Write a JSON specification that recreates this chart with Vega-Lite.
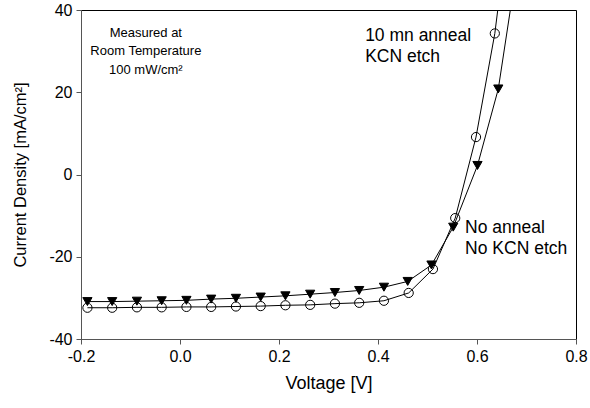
{
  "$schema": "https://vega.github.io/schema/vega-lite/v6.json",
  "autosize": {"type": "none"},
  "padding": {"left": 81, "top": 10, "right": 14, "bottom": 69},
  "width": 495,
  "height": 329,
  "background": "white",
  "config": {
    "font": "Liberation Sans",
    "view": {"stroke": "#000", "strokeWidth": 1},
    "axis": {
      "grid": false,
      "domainColor": "#555",
      "tickColor": "#555",
      "tickSize": 5,
      "labelFlush": false,
      "labelOverlap": false,
      "labelFont": "Liberation Sans",
      "labelFontSize": 16,
      "labelColor": "#000",
      "titleFont": "Liberation Sans",
      "titleFontSize": 18,
      "titleFontWeight": "normal",
      "titleColor": "#000"
    }
  },
  "datasets": {
    "jv": [
      {"V": -0.187, "J": -32.4, "series": "10 mn anneal KCN etch"},
      {"V": -0.137, "J": -32.4, "series": "10 mn anneal KCN etch"},
      {"V": -0.087, "J": -32.3, "series": "10 mn anneal KCN etch"},
      {"V": -0.037, "J": -32.3, "series": "10 mn anneal KCN etch"},
      {"V": 0.013, "J": -32.2, "series": "10 mn anneal KCN etch"},
      {"V": 0.063, "J": -32.2, "series": "10 mn anneal KCN etch"},
      {"V": 0.113, "J": -32.1, "series": "10 mn anneal KCN etch"},
      {"V": 0.163, "J": -32.0, "series": "10 mn anneal KCN etch"},
      {"V": 0.213, "J": -31.8, "series": "10 mn anneal KCN etch"},
      {"V": 0.263, "J": -31.7, "series": "10 mn anneal KCN etch"},
      {"V": 0.313, "J": -31.4, "series": "10 mn anneal KCN etch"},
      {"V": 0.362, "J": -31.2, "series": "10 mn anneal KCN etch"},
      {"V": 0.412, "J": -30.7, "series": "10 mn anneal KCN etch"},
      {"V": 0.462, "J": -28.8, "series": "10 mn anneal KCN etch"},
      {"V": 0.511, "J": -23.0, "series": "10 mn anneal KCN etch"},
      {"V": 0.556, "J": -10.6, "series": "10 mn anneal KCN etch"},
      {"V": 0.598, "J": 9.1, "series": "10 mn anneal KCN etch"},
      {"V": 0.636, "J": 34.3, "series": "10 mn anneal KCN etch"},
      {"V": 0.668, "J": 65.0, "series": "10 mn anneal KCN etch"},
      {"V": -0.187, "J": -30.9, "series": "No anneal No KCN etch"},
      {"V": -0.137, "J": -30.9, "series": "No anneal No KCN etch"},
      {"V": -0.087, "J": -30.8, "series": "No anneal No KCN etch"},
      {"V": -0.037, "J": -30.7, "series": "No anneal No KCN etch"},
      {"V": 0.013, "J": -30.6, "series": "No anneal No KCN etch"},
      {"V": 0.063, "J": -30.3, "series": "No anneal No KCN etch"},
      {"V": 0.113, "J": -30.1, "series": "No anneal No KCN etch"},
      {"V": 0.163, "J": -29.8, "series": "No anneal No KCN etch"},
      {"V": 0.213, "J": -29.5, "series": "No anneal No KCN etch"},
      {"V": 0.263, "J": -29.1, "series": "No anneal No KCN etch"},
      {"V": 0.313, "J": -28.7, "series": "No anneal No KCN etch"},
      {"V": 0.362, "J": -28.2, "series": "No anneal No KCN etch"},
      {"V": 0.412, "J": -27.4, "series": "No anneal No KCN etch"},
      {"V": 0.460, "J": -26.0, "series": "No anneal No KCN etch"},
      {"V": 0.508, "J": -22.0, "series": "No anneal No KCN etch"},
      {"V": 0.552, "J": -12.8, "series": "No anneal No KCN etch"},
      {"V": 0.601, "J": 2.2, "series": "No anneal No KCN etch"},
      {"V": 0.643, "J": 20.8, "series": "No anneal No KCN etch"},
      {"V": 0.680, "J": 50.0, "series": "No anneal No KCN etch"}
    ],
    "notes": [
      {"V": -0.069, "J": 34.5, "label": "Measured at", "group": "small"},
      {"V": -0.069, "J": 30.0, "label": "Room Temperature", "group": "small"},
      {"V": -0.069, "J": 25.5, "label": "100 mW/cm²", "group": "small"},
      {"V": 0.374, "J": 33.6, "label": "10 mn anneal", "group": "big"},
      {"V": 0.374, "J": 28.5, "label": "KCN etch", "group": "big"},
      {"V": 0.576, "J": -13.1, "label": "No anneal", "group": "big"},
      {"V": 0.576, "J": -18.1, "label": "No KCN etch", "group": "big"}
    ]
  },
  "layer": [
    {
      "data": {"name": "jv"},
      "mark": {"type": "line", "color": "#000", "strokeWidth": 1, "clip": true},
      "encoding": {
        "x": {"field": "V", "type": "quantitative",
          "scale": {"domain": [-0.2, 0.8], "nice": false, "zero": false},
          "axis": {"title": "Voltage [V]", "values": [-0.2, 0, 0.2, 0.4, 0.6, 0.8], "format": ".1f",
            "labelExpr": "replace(datum.label, '\u2212', '-')", "labelPadding": 4, "titlePadding": 10}},
        "y": {"field": "J", "type": "quantitative",
          "scale": {"domain": [-40, 40], "nice": false, "zero": false},
          "axis": {"title": "Current Density [mA/cm²]", "values": [-40, -20, 0, 20, 40],
            "labelExpr": "replace(datum.label, '\u2212', '-')", "labelPadding": 4, "titlePadding": 20, "titleFontSize": 16.5}},
        "detail": {"field": "series"}
      }
    },
    {
      "data": {"name": "jv"},
      "mark": {"type": "point", "stroke": "#000", "strokeWidth": 1, "opacity": 1, "clip": true, "size": 85},
      "encoding": {
        "x": {"field": "V", "type": "quantitative"},
        "y": {"field": "J", "type": "quantitative"},
        "shape": {"field": "series", "scale": {"range": ["circle", "triangle-down"]}, "legend": null},
        "fill": {"field": "series", "scale": {"range": ["transparent", "#000"]}, "legend": null}
      }
    },
    {
      "data": {"name": "notes"},
      "transform": [{"filter": "datum.group === 'small'"}],
      "mark": {"type": "text", "fontSize": 13, "align": "center", "baseline": "middle", "color": "#000"},
      "encoding": {
        "x": {"field": "V", "type": "quantitative"},
        "y": {"field": "J", "type": "quantitative"},
        "text": {"field": "label"}
      }
    },
    {
      "data": {"name": "notes"},
      "transform": [{"filter": "datum.group === 'big'"}],
      "mark": {"type": "text", "fontSize": 17.5, "align": "left", "baseline": "middle", "color": "#000"},
      "encoding": {
        "x": {"field": "V", "type": "quantitative"},
        "y": {"field": "J", "type": "quantitative"},
        "text": {"field": "label"}
      }
    }
  ]
}
